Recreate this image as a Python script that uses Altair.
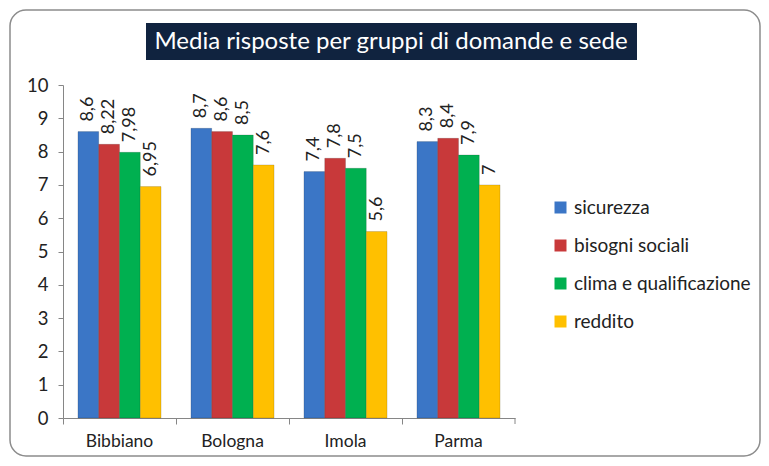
import altair as alt
import pandas as pd

sedi = ["Bibbiano", "Bologna", "Imola", "Parma"]
serie = ["sicurezza", "bisogni sociali", "clima e qualificazione", "reddito"]
sicurezza = [8.6, 8.7, 7.4, 8.3]
bisogni_sociali = [8.22, 8.6, 7.8, 8.4]
clima_qualificazione = [7.98, 8.5, 7.5, 7.9]
reddito = [6.95, 7.6, 5.6, 7.0]
colori = ["#3b76c6", "#c8393a", "#00b050", "#ffc000"]
titolo = "Media risposte per gruppi di domande e sede"
y_ticks = list(range(0, 11))

rows = []
for s, vals in zip(serie, [sicurezza, bisogni_sociali, clima_qualificazione, reddito]):
    for sede, v in zip(sedi, vals):
        rows.append({"sede": sede, "serie": s, "valore": v,
                     "etichetta": f"{v:g}".replace(".", ",")})
df = pd.DataFrame(rows)

FONT = "Lato"
W, H = 452, 333

x_enc = alt.X("sede:N", sort=sedi, title=None,
              scale=alt.Scale(paddingInner=0, paddingOuter=0),
              axis=alt.Axis(labelAngle=0, labelFontSize=17.5, labelFont=FONT, labelColor="#222",
                            domainColor="#868686", tickColor="#868686", tickSize=6,
                            bandPosition=0, labelPadding=8))
xo_enc = alt.XOffset("serie:N", sort=serie,
                     scale=alt.Scale(paddingInner=0, paddingOuter=0.72))
y_enc = alt.Y("valore:Q", title=None,
              scale=alt.Scale(domain=[0, 10], nice=False),
              axis=alt.Axis(values=y_ticks, grid=False, labelFontSize=18.5, labelFont=FONT,
                            labelColor="#222", domainColor="#868686", tickColor="#868686",
                            tickSize=5, labelPadding=10))

base = alt.Chart(df)
bars = base.mark_bar(stroke="#00000030", strokeWidth=0.8).encode(
    x=x_enc, xOffset=xo_enc, y=y_enc,
    color=alt.Color("serie:N", sort=serie,
                    scale=alt.Scale(domain=serie, range=colori),
                    legend=alt.Legend(title=None, orient="none", legendX=488, legendY=113,
                                      symbolType="square", symbolSize=144,
                                      symbolStrokeWidth=0, labelFontSize=19, labelFont=FONT,
                                      labelColor="#222", rowPadding=18, labelOffset=4,
                                      labelLimit=400)),
)
labels = base.mark_text(angle=270, align="left", baseline="middle", dx=10,
                        fontSize=18, font=FONT, color="#222").encode(
    x=x_enc, xOffset=xo_enc, y=y_enc, text="etichetta:N")

deco = alt.Chart(pd.DataFrame({"t": [titolo]}))
border = deco.mark_rect(fillOpacity=0, stroke="#8c8c8c", strokeWidth=1.5, cornerRadius=16).encode(
    x=alt.value(-53), x2=alt.value(697), y=alt.value(-75), y2=alt.value(371))
title_box = deco.mark_rect(color="#10233f").encode(
    x=alt.value(83), x2=alt.value(574), y=alt.value(-62), y2=alt.value(-25))
title_text = deco.mark_text(color="white", fontSize=24, font=FONT).encode(
    text="t:N", x=alt.value(328), y=alt.value(-43))
end_tick = deco.mark_rule(color="#868686").encode(
    x=alt.value(W), y=alt.value(H), y2=alt.value(H + 6))

chart = alt.layer(border, bars, labels, title_box, title_text, end_tick).properties(
    width=W, height=H,
    autosize=alt.AutoSizeParams(type="none"),
    padding={"left": 55, "top": 77, "right": 246, "bottom": 40},
    background="white",
).configure_view(stroke=None)

chart.save("out.html", embed_options={"renderer": "svg", "actions": False})
